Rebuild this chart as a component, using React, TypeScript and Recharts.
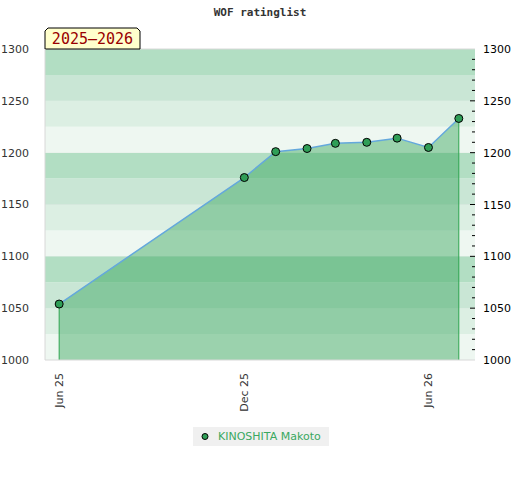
import React from 'react';
import {
  ComposedChart,
  Area,
  Line,
  XAxis,
  YAxis,
  ReferenceArea,
  ReferenceLine,
  Legend,
} from 'recharts';

// rating history (first of each month)
const dates = [
  '2025-06-01', '2025-12-01', '2026-01-01', '2026-02-01', '2026-03-01',
  '2026-04-01', '2026-05-01', '2026-06-01', '2026-07-01',
];
const ratings = [1054, 1176, 1201, 1204, 1209, 1210, 1214, 1205, 1233];

const tickDates = ['2025-06-01', '2025-12-01', '2026-06-01'];
const tickLabels = ['Jun 25', 'Dec 25', 'Jun 26'];

const bandEdges = [1000, 1025, 1050, 1075, 1100, 1125, 1150, 1175, 1200, 1225, 1250, 1275, 1300];
// colour by position inside each 100-point block (0, 25, 50, 75)
const bandColors = ['#eef7f1', '#dcefe3', '#c9e6d5', '#b2dec3'];

const leftTicks = [1000, 1050, 1100, 1150, 1200, 1250, 1300];
const rightTicks = Array.from({ length: 31 }, (_, i) => 1000 + i * 10);

const seasonLabel = '2025–2026';
const playerName = 'KINOSHITA Makoto';

const DAY = 86400000;
const toTs = (d: string) => Date.parse(d + 'T00:00:00Z');

const data = dates.map((d, i) => ({ t: toTs(d), v: ratings[i] }));
const ticks = tickDates.map(toTs);
const first = data[0];
const last = data[data.length - 1];

const FONT = '"DejaVu Sans", sans-serif';

const XTick = (props: any) => {
  const { x, y, payload } = props;
  const idx = ticks.indexOf(payload.value);
  return (
    <text
      x={x}
      y={y + 13}
      dy={4}
      transform={`rotate(-90, ${x}, ${y + 13})`}
      textAnchor="end"
      fontFamily={FONT}
      fontSize={11}
      fill="#333"
    >
      {tickLabels[idx]}
    </text>
  );
};

const RightTick = (props: any) => {
  const { x, y, payload } = props;
  const v = payload.value;
  const major = v % 50 === 0;
  const edge = v === 1000 || v === 1300;
  return (
    <g>
      {!edge && (
        <line x1={major ? x - 5 : x - 3} x2={x} y1={y} y2={y} stroke="#000" />
      )}
      {major && (
        <text x={x + 8} y={y} dy={4} fontFamily={FONT} fontSize={11} fill="#000">
          {v}
        </text>
      )}
    </g>
  );
};

const SeasonBox = (props: any) => {
  const { viewBox } = props;
  const x = viewBox.x;
  const y = viewBox.y;
  const w = 95;
  const h = 21;
  const c = 3;
  const pts = `${x},${y} ${x},${y - h + c} ${x + c},${y - h} ${x + w - c},${y - h} ${x + w},${y - h + c} ${x + w},${y}`;
  return (
    <g>
      <polygon points={pts} fill="#ffffcc" stroke="#000" strokeWidth={1} />
      <text
        x={x + w / 2}
        y={y - 5}
        textAnchor="middle"
        fontFamily='"DejaVu Sans Mono", monospace'
        fontSize={15}
        fill="#990000"
      >
        {seasonLabel}
      </text>
    </g>
  );
};

const LegendBox = () => (
  <div
    style={{
      background: '#f0f0f0',
      width: 136,
      height: 19,
      display: 'flex',
      alignItems: 'center',
      fontFamily: FONT,
      fontSize: 11,
      color: '#3aa860',
    }}
  >
    <svg width={25} height={19}>
      <circle cx={12} cy={9.5} r={3} fill="#2f9e57" stroke="#000" strokeWidth={1} />
    </svg>
    <span>{playerName}</span>
  </div>
);

export default function App() {
  return (
    <div style={{ position: 'absolute', left: 0, top: 0, width: 520, height: 480, background: '#fff' }}>
      <div
        style={{
          position: 'absolute',
          top: 6,
          width: 520,
          textAlign: 'center',
          fontFamily: '"DejaVu Sans Mono", monospace',
          fontWeight: 'bold',
          fontSize: 11,
          color: '#333',
        }}
      >
        WOF ratinglist
      </div>
      <ComposedChart
        width={520}
        height={480}
        data={data}
        margin={{ top: 49, right: 0, bottom: 60, left: 0 }}
      >
        <XAxis
          dataKey="t"
          type="number"
          scale="time"
          domain={[first.t - 14 * DAY, last.t + 16 * DAY]}
          ticks={ticks}
          interval={0}
          tick={<XTick />}
          tickLine={false}
          tickSize={0}
          tickMargin={0}
          axisLine={{ stroke: '#d8d8d8' }}
          height={60}
        />
        <YAxis
          yAxisId="l"
          domain={[1000, 1300]}
          ticks={leftTicks}
          interval={0}
          width={45}
          tickLine={false}
          axisLine={{ stroke: '#d8d8d8' }}
          tick={{ fontFamily: FONT, fontSize: 11, fill: '#333' }}
          tickMargin={10}
        />
        <YAxis
          yAxisId="r"
          orientation="right"
          domain={[1000, 1300]}
          allowDataOverflow
          ticks={rightTicks}
          interval={0}
          width={45}
          tickLine={false}
          axisLine={false}
          tickSize={0}
          tickMargin={0}
          tick={<RightTick />}
        />
        {bandEdges.slice(0, -1).map((b, i) => (
          <ReferenceArea
            key={b}
            yAxisId="l"
            y1={b}
            y2={bandEdges[i + 1]}
            fill={bandColors[(b % 100) / 25]}
            fillOpacity={1}
            stroke="none"
            ifOverflow="visible"
          />
        ))}
        {leftTicks.slice(1, -1).map((t) => (
          <ReferenceLine key={t} yAxisId="l" y={t} stroke="#e4e4e4" zIndex={50} />
        ))}
        <ReferenceLine yAxisId="l" y={1300} stroke="#d8d8d8" label={<SeasonBox />} />
        <Area
          yAxisId="l"
          type="linear"
          dataKey="v"
          baseValue={1000}
          stroke="#64a8dc"
          strokeWidth={1.5}
          fill="#35a45a"
          fillOpacity={0.45}
          dot={{ r: 4, fill: '#2f9e57', stroke: '#000', strokeWidth: 1, fillOpacity: 1 }}
          activeDot={false}
          isAnimationActive={false}
          name={playerName}
        />
        {/* invisible series so the right-hand axis is drawn */}
        <Line
          yAxisId="r"
          dataKey="v"
          stroke="none"
          dot={false}
          activeDot={false}
          legendType="none"
          isAnimationActive={false}
        />
        <ReferenceLine
          yAxisId="l"
          segment={[{ x: first.t, y: 1000 }, { x: first.t, y: first.v }]}
          stroke="#2ea44f"
        />
        <ReferenceLine
          yAxisId="l"
          segment={[{ x: last.t, y: 1000 }, { x: last.t, y: last.v }]}
          stroke="#2ea44f"
        />
        <Legend
          layout="horizontal"
          verticalAlign="middle"
          align="center"
          content={<LegendBox />}
          wrapperStyle={{ left: 193, top: 427, width: 136 }}
        />
      </ComposedChart>
    </div>
  );
}
